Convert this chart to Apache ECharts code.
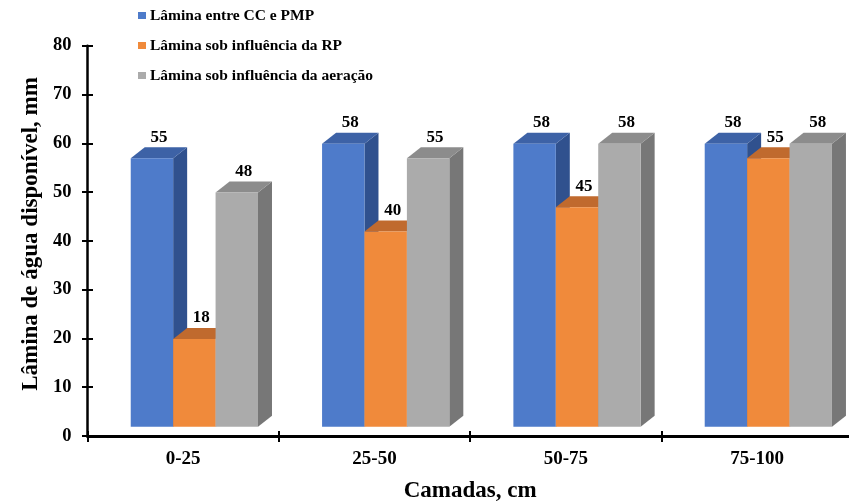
<!DOCTYPE html>
<html>
<head>
<meta charset="utf-8">
<script src="https://cdn.jsdelivr.net/npm/echarts@6/dist/echarts.min.js"></script>
<style>
  html, body { margin: 0; padding: 0; background: #ffffff; }
  #chart { width: 849px; height: 502px; }
</style>
</head>
<body>
<div id="chart"></div>
<script>
// Soil layers (cm) and available water depth (mm) for each criterion
const camadas = ['0-25', '25-50', '50-75', '75-100'];
const laminaCcPmp = [55, 58, 58, 58];
const laminaRp = [18, 40, 45, 55];
const laminaAeracao = [48, 55, 58, 58];
const seriesNames = [
  'Lâmina entre CC e PMP',
  'Lâmina sob influência da RP',
  'Lâmina sob influência da aeração'
];
const seriesValues = [laminaCcPmp, laminaRp, laminaAeracao];

// Face shading for the pseudo-3D columns
const palettes = [
  { front: '#4E7BCA', top: '#3D62A6', side: '#30518E' },
  { front: '#F08A3B', top: '#C06A2E', side: '#A85B26' },
  { front: '#ABABAB', top: '#8C8C8C', side: '#777777' }
];

const FONT = '"Liberation Serif", "Times New Roman", serif';
const DEPTH_X = 14;      // oblique depth of the columns
const DEPTH_Y = 11;
const LIFT = 9.3;        // columns stand on a floor slightly above the axis
const GROUP_OFFSET = 0.226; // left edge of a cluster inside its band
const BAR_FRAC = 0.2217;    // column width as a share of the band

function makeRender(si) {
  const pal = palettes[si];
  return function (params, api) {
    const idx = api.value(0);
    const val = api.value(1);
    const topPt = api.coord([idx, val]);
    const basePt = api.coord([idx, 0]);
    const band = api.size([1, 0])[0];
    const w = band * BAR_FRAC;
    const x = topPt[0] - band / 2 + band * GROUP_OFFSET + si * w;
    const yT = topPt[1] - LIFT;
    const yB = basePt[1] - LIFT;
    return {
      type: 'group',
      children: [
        {
          type: 'polygon',
          shape: { points: [[x + w, yT], [x + w + DEPTH_X, yT - DEPTH_Y], [x + w + DEPTH_X, yB - DEPTH_Y], [x + w, yB]] },
          style: { fill: pal.side }
        },
        {
          type: 'polygon',
          shape: { points: [[x, yT], [x + DEPTH_X, yT - DEPTH_Y], [x + w + DEPTH_X, yT - DEPTH_Y], [x + w, yT]] },
          style: { fill: pal.top }
        },
        {
          type: 'rect',
          shape: { x: x, y: yT, width: w, height: yB - yT },
          style: { fill: pal.front }
        },
        {
          type: 'text',
          z2: 100,
          x: x + w / 2 + DEPTH_X / 2,
          y: yT - DEPTH_Y - 10,
          style: {
            text: String(val),
            align: 'center',
            verticalAlign: 'middle',
            fill: '#000',
            font: 'bold 17px ' + FONT
          }
        }
      ]
    };
  };
}

const chart = echarts.init(document.getElementById('chart'), null, { renderer: 'canvas' });

const series = seriesNames.map(function (name, si) {
  return {
    name: name,
    type: 'custom',
    renderItem: makeRender(si),
    itemStyle: { color: palettes[si].front },
    encode: { x: 0, y: 1 },
    data: seriesValues[si].map(function (v, i) { return [i, v]; })
  };
});

const labelFont = { fontFamily: FONT, fontWeight: 'bold', color: '#000' };

chart.setOption({
  animation: false,
  backgroundColor: '#ffffff',
  grid: {
    left: 87.5, top: 45.7, width: 765.3, height: 390.3,
    containLabel: false,
    outerBoundsMode: 'none'
  },
  legend: {
    orient: 'vertical',
    left: 138,
    top: 7.5,
    padding: 0,
    icon: 'rect',
    itemWidth: 8,
    itemHeight: 7,
    itemGap: 14,
    data: seriesNames,
    textStyle: Object.assign({ fontSize: 15.5, lineHeight: 15, padding: [0, 0, 0, -1] }, labelFont)
  },
  xAxis: [
    {
      type: 'category',
      data: camadas,
      position: 'bottom',
      axisLine: { lineStyle: { color: '#000', width: 3 } },
      axisTick: { show: true, length: 6, lineStyle: { color: '#000', width: 2 } },
      axisLabel: Object.assign({ fontSize: 19, margin: 14 }, labelFont),
      splitLine: { show: false },
      name: 'Camadas, cm',
      nameLocation: 'middle',
      nameGap: 44,
      nameTextStyle: Object.assign({ fontSize: 23 }, labelFont)
    },
    {
      type: 'category',
      data: camadas,
      position: 'bottom',
      axisLine: { show: false },
      axisTick: { show: true, inside: true, length: 5, lineStyle: { color: '#000', width: 2 } },
      axisLabel: { show: false },
      splitLine: { show: false }
    }
  ],
  yAxis: [
    {
      type: 'value',
      min: 0,
      max: 80,
      interval: 10,
      position: 'left',
      axisLine: { show: true, lineStyle: { color: '#000', width: 2.5 } },
      axisTick: { show: true, length: 5.5, lineStyle: { color: '#000', width: 2 } },
      axisLabel: Object.assign({ fontSize: 18.5, margin: 16 }, labelFont),
      splitLine: { show: false }
    },
    {
      type: 'value',
      min: 0,
      max: 80,
      interval: 10,
      position: 'left',
      axisLine: { show: false },
      axisTick: { show: true, inside: true, length: 5.5, lineStyle: { color: '#000', width: 2 } },
      axisLabel: { show: false },
      splitLine: { show: false }
    }
  ],
  graphic: [
    {
      type: 'text',
      x: 31,
      y: 234,
      rotation: Math.PI / 2,
      style: {
        text: 'Lâmina de água disponível, mm',
        align: 'center',
        verticalAlign: 'middle',
        fill: '#000',
        font: 'bold 23px ' + FONT
      }
    }
  ],
  series: series
});
</script>
</body>
</html>
